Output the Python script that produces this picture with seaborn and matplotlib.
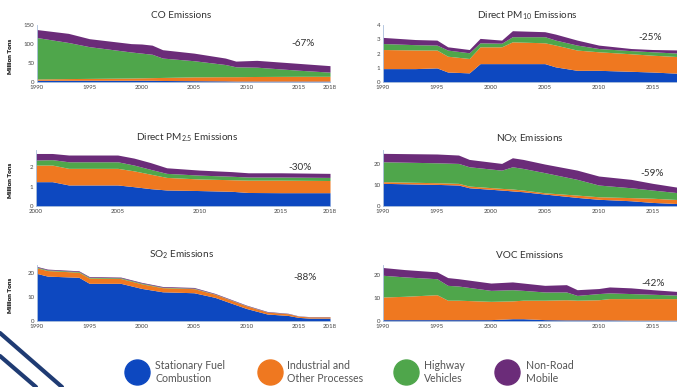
import numpy as np
import matplotlib
matplotlib.use("Agg")
import matplotlib.pyplot as plt
from matplotlib.lines import Line2D
import seaborn as sns

sns.set_theme(style="white")
plt.rcParams['font.family'] = ['Lato', 'DejaVu Sans']
plt.rcParams['mathtext.fontset'] = 'custom'
plt.rcParams['mathtext.rm'] = 'Lato'
plt.rcParams['mathtext.it'] = 'Lato:italic'

SERIES = ["Stationary Fuel\nCombustion", "Industrial and\nOther Processes",
          "Highway\nVehicles", "Non-Road\nMobile"]
COLORS = ["#0d48c0", "#ef7820", "#4fa64b", "#6b2c79"]

# ---- CO (million tons)
co_years = [1990, 1993, 1995, 1999, 2000, 2001, 2002, 2005, 2008, 2009, 2011, 2015, 2018]
co_stat = [4.5, 4.5, 4.5, 4.5, 4.5, 4.5, 4, 3.5, 3, 2.5, 2.5, 2.5, 2.5]
co_ind = [3.5, 4.5, 5, 6, 6.5, 7, 8, 10, 11, 11.5, 12, 12.5, 12.5]
co_hwy = [109, 95, 83.5, 68.5, 65, 61.5, 51, 42.5, 32, 26, 24.5, 16, 11]
co_nonroad = [21, 24, 21, 22, 24, 24, 22, 20, 17, 15, 18, 18, 17]

# ---- PM10
pm10_years = [1990, 1993, 1995, 1996, 1998, 1999, 2001, 2002, 2005, 2006, 2008, 2010, 2013, 2015, 2018]
pm10_stat = [0.94, 0.94, 0.99, 0.70, 0.64, 1.29, 1.29, 1.29, 1.29, 1.06, 0.82, 0.82, 0.75, 0.70, 0.59]
pm10_ind = [1.34, 1.31, 1.25, 1.11, 1.01, 1.18, 1.18, 1.53, 1.46, 1.53, 1.42, 1.30, 1.23, 1.18, 1.17]
pm10_hwy = [0.42, 0.37, 0.35, 0.43, 0.40, 0.28, 0.25, 0.36, 0.43, 0.35, 0.35, 0.23, 0.22, 0.24, 0.24]
pm10_nonroad = [0.43, 0.36, 0.35, 0.23, 0.23, 0.31, 0.22, 0.42, 0.35, 0.42, 0.35, 0.24, 0.15, 0.16, 0.24]

# ---- PM2.5
pm25_years = [2000, 2001, 2002, 2005, 2006, 2007, 2008, 2010, 2012, 2013, 2015, 2018]
pm25_stat = [1.26, 1.26, 1.09, 1.09, 1.00, 0.90, 0.83, 0.80, 0.76, 0.70, 0.69, 0.69]
pm25_ind = [0.86, 0.86, 0.86, 0.86, 0.82, 0.75, 0.65, 0.60, 0.60, 0.64, 0.65, 0.63]
pm25_hwy = [0.26, 0.28, 0.34, 0.34, 0.30, 0.25, 0.21, 0.20, 0.18, 0.16, 0.16, 0.16]
pm25_nonroad = [0.34, 0.32, 0.35, 0.35, 0.36, 0.35, 0.29, 0.26, 0.24, 0.22, 0.22, 0.21]

# ---- NOx
nox_years = [1990, 1995, 1997, 1998, 2001, 2002, 2003, 2005, 2008, 2010, 2013, 2015, 2018]
nox_stat = [10.8, 10.3, 10.0, 8.7, 7.6, 7.2, 6.8, 5.7, 4.1, 3.2, 2.5, 1.7, 1.0]
nox_ind = [0.8, 0.8, 0.8, 0.8, 0.8, 0.9, 0.8, 0.6, 1.1, 1.2, 1.5, 2.0, 1.9]
nox_hwy = [9.5, 9.5, 9.5, 9.2, 8.7, 10.6, 10.3, 9.6, 7.5, 5.6, 4.7, 3.9, 3.1]
nox_nonroad = [4.0, 4.2, 4.0, 3.5, 3.2, 4.3, 4.3, 4.1, 4.4, 4.3, 4.0, 3.2, 2.4]

# ---- SO2
so2_years = [1990, 1991, 1994, 1995, 1998, 2000, 2002, 2005, 2007, 2010, 2012, 2014, 2015, 2016, 2018]
so2_stat = [19.7, 18.6, 18.1, 15.6, 15.6, 13.5, 12.1, 11.7, 9.8, 5.2, 2.9, 2.3, 1.5, 1.2, 1.2]
so2_ind = [2.3, 2.3, 2.1, 2.2, 2.0, 1.9, 1.7, 1.7, 1.3, 1.1, 0.8, 0.7, 0.5, 0.5, 0.5]
so2_hwy = [0.3, 0.3, 0.3, 0.3, 0.3, 0.3, 0.2, 0.2, 0.1, 0.1, 0.05, 0.05, 0.03, 0.03, 0.03]
so2_nonroad = [0.3, 0.3, 0.3, 0.3, 0.3, 0.3, 0.3, 0.3, 0.25, 0.2, 0.2, 0.15, 0.1, 0.1, 0.1]

# ---- VOC
voc_years = [1990, 1992, 1995, 1996, 1997, 2000, 2002, 2003, 2005, 2007, 2008, 2010, 2011, 2013, 2015, 2018]
voc_stat = [0.6, 0.6, 0.6, 0.6, 0.6, 0.6, 1.0, 1.0, 0.6, 0.5, 0.5, 0.5, 0.5, 0.4, 0.4, 0.4]
voc_ind = [9.9, 10.2, 10.9, 8.5, 8.5, 8.0, 7.8, 8.1, 8.5, 8.8, 8.6, 8.8, 9.3, 9.4, 9.4, 9.4]
voc_hwy = [9.5, 8.5, 7.0, 6.5, 6.2, 4.8, 4.9, 4.3, 3.6, 3.4, 2.1, 2.7, 2.5, 2.2, 1.9, 1.4]
voc_nonroad = [3.4, 3.2, 3.0, 3.4, 3.2, 3.2, 3.4, 3.2, 2.9, 3.2, 2.5, 2.2, 2.6, 2.5, 2.0, 1.5]

TICKS_90 = [1990, 1995, 2000, 2005, 2010, 2015, 2018]
TICKS_00 = [2000, 2005, 2010, 2015, 2018]

W, H = 677, 387
fig = plt.figure(figsize=(W / 100, H / 100), dpi=100)


def box(l, t, r, b):
    return [l / W, 1 - b / H, (r - l) / W, (b - t) / H]


panels = [
    ("CO Emissions", "-67%", co_years, [co_stat, co_ind, co_hwy, co_nonroad],
     (1990, 2018), TICKS_90, 150, [0, 50, 100, 150], (37, 25, 330, 82), (181, 16), (303, 43)),
    ("Direct PM$_{10}$ Emissions", "-25%", pm10_years, [pm10_stat, pm10_ind, pm10_hwy, pm10_nonroad],
     (1990, 2018), TICKS_90, 4, [0, 1, 2, 3, 4], (383, 25, 685, 82), (527, 16), (650, 38)),
    ("Direct PM$_{2.5}$ Emissions", "-30%", pm25_years, [pm25_stat, pm25_ind, pm25_hwy, pm25_nonroad],
     (2000, 2018), TICKS_00, 2.9, [0, 1, 2], (36, 150, 330, 206), (187, 138), (300, 167)),
    ("NO$_\\mathrm{X}$ Emissions", "-59%", nox_years, [nox_stat, nox_ind, nox_hwy, nox_nonroad],
     (1990, 2018), TICKS_90, 26.7, [0, 10, 20], (383, 150, 685, 206), (530, 139), (652, 173)),
    ("SO$_2$ Emissions", "-88%", so2_years, [so2_stat, so2_ind, so2_hwy, so2_nonroad],
     (1990, 2018), TICKS_90, 23.2, [0, 10, 20], (37, 265, 330, 321), (182, 255), (305, 278)),
    ("VOC Emissions", "-42%", voc_years, [voc_stat, voc_ind, voc_hwy, voc_nonroad],
     (1990, 2018), TICKS_90, 24.5, [0, 10, 20], (383, 265, 685, 321), (529, 256), (653, 283)),
]

for title, pct, yrs, ser, xlim, xt, ymax, yt, bx, tpos, ppos in panels:
    ax = fig.add_axes(box(*bx))
    ax.stackplot(yrs, *ser, colors=COLORS, linewidth=0)
    ax.set_xlim(*xlim)
    ax.set_ylim(0, ymax)
    ax.set_xticks(xt)
    ax.set_yticks(yt)
    ax.tick_params(axis='both', length=0, pad=2, labelsize=4.4, colors="#444444")
    ax.set_facecolor("none")
    sns.despine(ax=ax, top=True, right=True)
    for s in ("left", "bottom"):
        ax.spines[s].set_color("#a9bedb")
        ax.spines[s].set_linewidth(0.6)
    ax.set_ylabel("Million Tons", fontsize=4.6, fontweight="bold", color="#333333")
    ax.yaxis.set_label_coords(-(bx[0] - 13) / (bx[2] - bx[0]), 0.45)
    fig.text(tpos[0] / W, 1 - tpos[1] / H, title, ha="center", va="center",
             fontsize=7.2, color="#333333")
    fig.text(ppos[0] / W, 1 - ppos[1] / H, pct, ha="center", va="center",
             fontsize=7.2, color="#333333")

# legend: circle markers with two-line labels
circle_x = [137, 270, 406, 507]
label_x = [155, 287, 424, 526]
leg_y = 1 - 372 / H
for cx, lx, col, lab in zip(circle_x, label_x, COLORS, SERIES):
    fig.add_artist(Line2D([cx / W], [leg_y], marker="o", linestyle="none", markersize=18,
                          markerfacecolor=col, markeredgecolor=col,
                          transform=fig.transFigure))
    fig.text(lx / W, leg_y, lab, ha="left", va="center", fontsize=7.6,
             color="#555555", linespacing=1.15)

# decorative corner stripes
fig.add_artist(Line2D([0, 62 / W], [1 - 333 / H, 0], transform=fig.transFigure,
                      color="#1f3b73", linewidth=3))
fig.add_artist(Line2D([0, 36 / W], [1 - 356 / H, 0], transform=fig.transFigure,
                      color="#1f3b73", linewidth=3))

fig.savefig("out.png", dpi=100, facecolor="white")
